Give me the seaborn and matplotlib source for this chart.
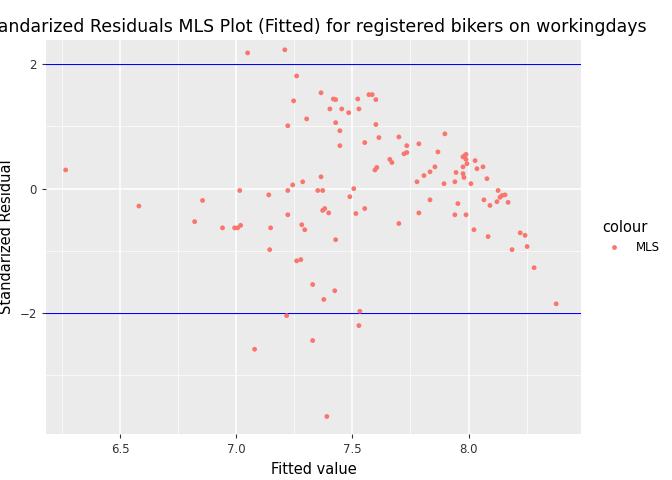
import numpy as np
import pandas as pd
import matplotlib
matplotlib.use("Agg")
import matplotlib.pyplot as plt
from matplotlib.ticker import MultipleLocator
import seaborn as sns

fitted = [7.049, 7.209, 7.260, 7.365, 7.247, 7.418, 7.428, 7.523, 7.571, 7.585,
          7.601, 7.403, 7.454, 7.484, 7.528, 7.303, 7.428, 7.222, 7.446, 7.601,
          7.553, 7.614, 7.700, 7.446, 7.734, 7.786, 7.661, 7.670, 7.722, 7.734,
          7.597, 7.605, 7.365, 7.243, 7.286, 7.778, 7.015, 7.140, 7.222, 7.351,
          7.372, 7.506, 7.489, 6.855, 7.553, 7.372, 7.381, 7.398, 7.515, 7.222,
          7.786, 6.821, 7.700, 6.941, 6.993, 7.006, 7.019, 7.148, 7.282, 7.295,
          7.428, 7.144, 7.260, 7.278, 7.329, 7.424, 7.377, 7.532, 7.217, 7.528,
          7.329, 7.079, 7.390, 7.898, 7.868, 7.855, 7.834, 7.808, 7.834, 7.894,
          7.946, 7.941, 7.976, 7.984, 7.989, 7.989, 7.993, 7.976, 7.976, 7.980,
          8.010, 8.028, 8.036, 8.062, 8.079, 7.954, 7.941, 7.989, 8.023, 8.066,
          8.092, 8.127, 8.122, 8.135, 8.144, 8.157, 8.170, 8.084, 8.187, 8.222,
          8.243, 8.252, 8.282, 8.377, 6.266, 6.581]
resid = [2.18, 2.23, 1.81, 1.54, 1.41, 1.44, 1.43, 1.44, 1.51, 1.51,
         1.43, 1.28, 1.28, 1.22, 1.28, 1.12, 1.06, 1.01, 0.93, 1.03,
         0.74, 0.82, 0.83, 0.69, 0.69, 0.72, 0.47, 0.42, 0.56, 0.58,
         0.30, 0.34, 0.19, 0.06, 0.11, 0.11, -0.03, -0.10, -0.03, -0.03,
         -0.03, 0.00, -0.13, -0.19, -0.32, -0.35, -0.32, -0.39, -0.40, -0.42,
         -0.39, -0.53, -0.56, -0.63, -0.63, -0.63, -0.59, -0.63, -0.58, -0.66,
         -0.82, -0.98, -1.16, -1.14, -1.54, -1.64, -1.78, -1.97, -2.04, -2.20,
         -2.44, -2.58, -3.66, 0.88, 0.59, 0.35, 0.27, 0.21, -0.18, 0.08,
         0.26, 0.11, 0.51, 0.53, 0.55, 0.47, 0.40, 0.35, 0.24, 0.18,
         0.08, 0.45, 0.32, 0.35, 0.16, -0.24, -0.42, -0.42, -0.66, -0.18,
         -0.27, -0.03, -0.21, -0.14, -0.11, -0.10, -0.22, -0.77, -0.98, -0.71,
         -0.75, -0.93, -1.27, -1.85, 0.30, -0.28]

df = pd.DataFrame({"fitted": fitted, "resid": resid, "colour": "MLS"})

fig = plt.figure(figsize=(6.72, 4.8), dpi=100)
ax = fig.add_axes([0.068, 0.096, 0.797, 0.821])
ax.set_facecolor("#EBEBEB")

sns.scatterplot(data=df, x="fitted", y="resid", hue="colour", palette=["#F8766D"],
                s=12, linewidth=0, ax=ax, zorder=3)

ax.axhline(2, color="blue", lw=0.8, zorder=2)
ax.axhline(-2, color="blue", lw=0.8, zorder=2)

ax.set_xlim(6.18, 8.485)
ax.set_ylim(-3.94, 2.39)
ax.xaxis.set_major_locator(MultipleLocator(0.5))
ax.xaxis.set_minor_locator(MultipleLocator(0.25))
ax.yaxis.set_major_locator(MultipleLocator(2))
ax.yaxis.set_minor_locator(MultipleLocator(1))
ax.grid(which="major", color="white", lw=1.1, zorder=0)
ax.grid(which="minor", color="white", lw=0.5, zorder=0)
ax.set_axisbelow(True)
for s in ax.spines.values():
    s.set_visible(False)
ax.tick_params(which="major", colors="#333333", labelsize=8.5, length=3, color="#333333")
ax.tick_params(which="minor", length=0)
ax.xaxis.set_major_formatter(plt.FuncFormatter(lambda v, p: f"{v:.1f}"))

ax.set_xlabel("Fitted value", fontsize=10.5)
ax.set_ylabel("Standarized Residual", fontsize=10.5)
ax.set_title("Standarized Residuals MLS Plot (Fitted) for registered bikers on workingdays",
             fontsize=12.5, pad=6)

leg = ax.legend(title="colour", loc="center left", bbox_to_anchor=(1.02, 0.5),
                frameon=False, fontsize=8.5, title_fontsize=10.5,
                handletextpad=0.8)
leg._legend_box.align = "left"

fig.savefig("out.png", dpi=100)
